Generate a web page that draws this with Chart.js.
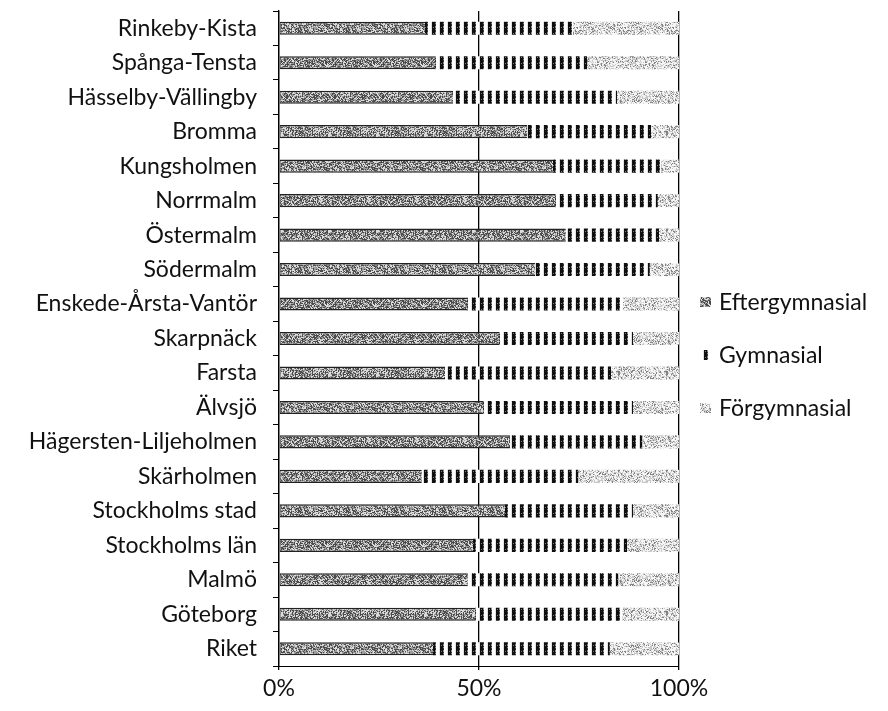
<!DOCTYPE html>
<html>
<head>
<meta charset="utf-8">
<script src="https://cdn.jsdelivr.net/npm/chart.js@4.4.1/dist/chart.umd.min.js"></script>
<style>
  html, body { margin: 0; padding: 0; background: #fff; }
  #wrap { width: 888px; height: 711px; }
</style>
</head>
<body>
<div id="wrap"><canvas id="c" width="888" height="711"></canvas></div>
<script>
// ---- data (percent shares) ----
const categories = [
  "Rinkeby-Kista", "Spånga-Tensta", "Hässelby-Vällingby", "Bromma", "Kungsholmen",
  "Norrmalm", "Östermalm", "Södermalm", "Enskede-Årsta-Vantör", "Skarpnäck",
  "Farsta", "Älvsjö", "Hägersten-Liljeholmen", "Skärholmen", "Stockholms stad",
  "Stockholms län", "Malmö", "Göteborg", "Riket"
];
const eftergymnasial = [36.5, 39, 43.5, 62, 68.5, 69, 71.7, 64, 47, 55, 41.5, 51, 57.8, 35.7, 56.5, 48.5, 47.2, 49, 38.5];
const gymnasial      = [37, 38, 41, 31, 27, 25.7, 23.3, 28.7, 39, 33.5, 41.5, 37.5, 33, 39.1, 32, 38.5, 37.6, 36.8, 44.2];
const forgymnasial   = [26.5, 23, 15.5, 7, 4.5, 5.3, 5, 7.3, 14, 11.5, 17, 11.5, 9.2, 25.2, 11.5, 13, 15.2, 14.2, 17.3];
const seriesNames = ["Eftergymnasial", "Gymnasial", "Förgymnasial"];
const xTicks = [0, 50, 100];

// ---- textures (deterministic hash dithering) ----
const FONT = "Lato";
function hash(i, j, s) {
  let h = Math.imul(i + 17, 374761393) ^ Math.imul(j + 31, 668265263) ^ Math.imul(s, 2246822519);
  h = Math.imul(h ^ (h >>> 13), 1274126177);
  h ^= h >>> 16;
  return (h >>> 0) / 4294967296;
}
function makePattern(w, h, fn) {
  const c = document.createElement('canvas');
  c.width = w; c.height = h;
  const x = c.getContext('2d');
  const img = x.createImageData(w, h);
  for (let j = 0; j < h; j++) for (let i = 0; i < w; i++) {
    const v = fn(i, j);
    const k = (j * w + i) * 4;
    img.data[k] = v; img.data[k + 1] = v; img.data[k + 2] = v; img.data[k + 3] = 255;
  }
  x.putImageData(img, 0, 0);
  return x.createPattern(c, 'repeat');
}
const patEfter = makePattern(48, 48, (i, j) => {
  const r = hash(i, j, 1);
  return r < 0.4 ? 75 : (r < 0.7 ? 155 : 220);
});
const patGym = makePattern(8, 6, (i, j) => {
  const m = i % 8;
  if (m <= 2) return (m === 1 && j === 3) ? 120 : 15;
  if (m === 3) return (hash(i, j, 2) < 0.5 ? 50 : 140);
  if (m === 7) return 225;
  return 255;
});
const patForg = makePattern(48, 48, (i, j) => {
  const r = hash(i, j, 3);
  return r < 0.18 ? 130 : (r < 0.5 ? 200 : 245);
});
const patterns = [patEfter, patGym, patForg];

// ---- legend plugin (drawn at the right of the plot) ----
const legendPlugin = {
  id: 'sideLegend',
  afterDraw(chart) {
    const ctx = chart.ctx;
    ctx.save();
    ctx.font = "23px " + FONT;
    ctx.textBaseline = 'middle';
    ctx.textAlign = 'left';
    const ys = [302, 355, 408];
    seriesNames.forEach((name, i) => {
      ctx.fillStyle = patterns[i];
      ctx.fillRect(700, ys[i] - 5, 11, 10);
      ctx.fillStyle = '#111';
      ctx.fillText(name, 719, ys[i] + 1);
    });
    ctx.restore();
  }
};

new Chart(document.getElementById('c'), {
  type: 'bar',
  data: {
    labels: categories,
    datasets: [
      { label: seriesNames[0], data: eftergymnasial, backgroundColor: patEfter,
        borderColor: '#222', borderWidth: { top: 1.5, bottom: 1.5, left: 1, right: 0 }, borderSkipped: false },
      { label: seriesNames[1], data: gymnasial, backgroundColor: patGym, borderWidth: 0 },
      { label: seriesNames[2], data: forgymnasial, backgroundColor: patForg, borderWidth: 0 }
    ]
  },
  options: {
    indexAxis: 'y',
    responsive: false,
    devicePixelRatio: 1,
    animation: false,
    layout: { padding: { top: 11, right: 209, bottom: 0, left: 0 } },
    datasets: { bar: { barPercentage: 0.38, categoryPercentage: 1 } },
    plugins: { legend: { display: false }, tooltip: { enabled: false } },
    scales: {
      x: {
        stacked: true, min: 0, max: 100,
        afterBuildTicks(scale) { scale.ticks = xTicks.map(v => ({ value: v })); },
        afterFit(scale) { scale.height = 45; scale.paddingLeft = 0; scale.paddingRight = 0; },
        ticks: { callback: v => v + '%', color: '#111', font: { family: FONT, size: 23 }, padding: 5, maxRotation: 0 },
        grid: { color: '#000', lineWidth: 1.3, drawTicks: true, tickLength: 4 },
        border: { display: true, color: '#000', width: 1 }
      },
      y: {
        stacked: true,
        afterFit(scale) { scale.width = 279; scale.paddingTop = 0; scale.paddingBottom = 0; },
        ticks: { color: '#111', font: { family: FONT, size: 23 }, padding: 16, autoSkip: false },
        grid: { drawOnChartArea: false, drawTicks: true, tickLength: 6, color: '#000', offset: true },
        border: { display: true, color: '#000', width: 1.3 }
      }
    }
  },
  plugins: [legendPlugin]
});
</script>
</body>
</html>
